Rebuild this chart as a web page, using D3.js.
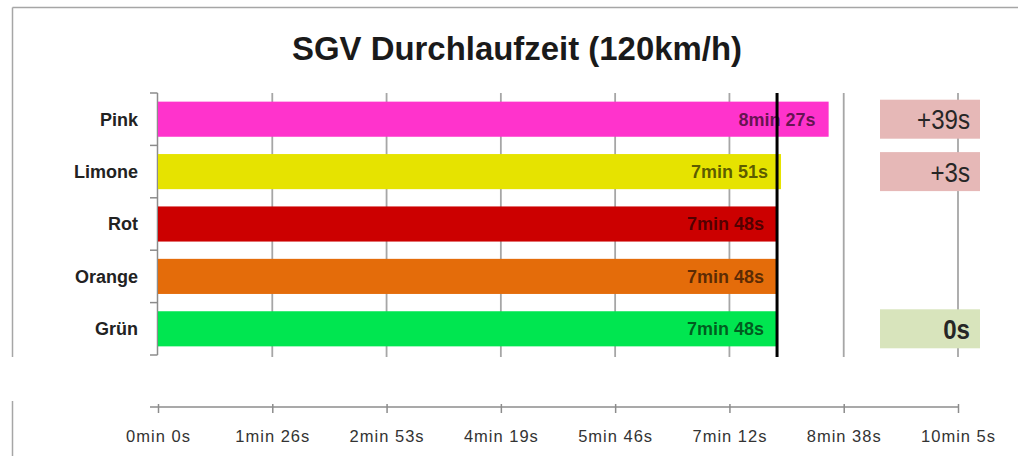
<!DOCTYPE html>
<html>
<head>
<meta charset="utf-8">
<script src="https://cdn.jsdelivr.net/npm/d3@7"></script>
<style>
  body { margin: 0; background: #fff; }
  svg { display: block; }
</style>
</head>
<body>
<svg id="chart" width="1018" height="456"></svg>
<script>
// categories top to bottom, times in seconds
const categories = ["Pink", "Limone", "Rot", "Orange", "Grün"];
const durations = [507, 471, 468, 468, 468];
const barColors = ["#ff33cc", "#e6e300", "#cc0000", "#e46c0a", "#00e650"];

// x ticks (Excel steps of 0.001 day = 86.4s)
const tickValues = [0, 86.4, 172.8, 259.2, 345.6, 432, 518.4, 604.8];

// reference line (7min 48s)
const refTime = 468;

// delta boxes on the right
const deltaCats = ["Pink", "Limone", "Grün"];
const deltaLabels = ["+39s", "+3s", "0s"];
const deltaColors = ["#e6b8b7", "#e6b8b7", "#d8e4bc"];
const deltaBold = [false, false, true];

const title = "SGV Durchlaufzeit (120km/h)";

const width = 1018, height = 456;
const plotTop = 93, plotBottom = 355, stripCut = 357;
const axisY = 407;

const fmt = s => `${Math.floor(s / 60)}min ${Math.round(s % 60)}s`;

const svg = d3.select("#chart");

const x = d3.scaleLinear()
    .domain([0, 604.8])
    .range([158, 958]);

const y = d3.scaleBand()
    .domain(categories)
    .range([plotTop, plotBottom])
    .paddingInner(0.33)
    .paddingOuter(0.165);

// outer frame (top + left, broken between the two strips)
const frame = svg.append("g").attr("stroke", "#a6a6a6").attr("stroke-width", 1.5);
frame.append("line").attr("x1", 12.5).attr("x2", width).attr("y1", 7.5).attr("y2", 7.5);
frame.append("line").attr("x1", 12.5).attr("x2", 12.5).attr("y1", 7.5).attr("y2", stripCut);
frame.append("line").attr("x1", 12.5).attr("x2", 12.5).attr("y1", 401).attr("y2", height);

// title
svg.append("text")
    .attr("x", 517)
    .attr("y", 60)
    .attr("text-anchor", "middle")
    .attr("font-family", "'Liberation Sans', Arial, sans-serif")
    .attr("font-size", 33)
    .attr("font-weight", "bold")
    .attr("fill", "#1a1a1a")
    .attr("textLength", 450)
    .attr("lengthAdjust", "spacingAndGlyphs")
    .text(title);

// vertical gridlines
svg.append("g")
    .selectAll("line")
    .data(tickValues.slice(1))
    .join("line")
    .attr("x1", d => x(d))
    .attr("x2", d => x(d))
    .attr("y1", plotTop)
    .attr("y2", stripCut)
    .attr("stroke", "#a6a6a6")
    .attr("stroke-width", 1.8);

// left axis line with ticks at band boundaries
const yAxis = svg.append("g").attr("stroke", "#8c8c8c").attr("stroke-width", 1.5);
yAxis.append("line")
    .attr("x1", x(0) - 0.5).attr("x2", x(0) - 0.5)
    .attr("y1", plotTop).attr("y2", plotBottom);
const bounds = d3.range(categories.length + 1).map(i => plotTop + i * y.step());
yAxis.selectAll("line.tick")
    .data(bounds)
    .join("line")
    .attr("class", "tick")
    .attr("x1", x(0) - 8).attr("x2", x(0) - 0.5)
    .attr("y1", d => d).attr("y2", d => d);

// bars
svg.append("g")
    .selectAll("rect")
    .data(categories)
    .join("rect")
    .attr("x", x(0))
    .attr("y", d => y(d))
    .attr("width", (d, i) => x(durations[i]) - x(0))
    .attr("height", y.bandwidth())
    .attr("fill", (d, i) => barColors[i]);

// category labels
svg.append("g")
    .selectAll("text")
    .data(categories)
    .join("text")
    .attr("x", 138)
    .attr("y", d => y(d) + y.bandwidth() / 2)
    .attr("dy", "0.36em")
    .attr("text-anchor", "end")
    .attr("font-family", "'Liberation Sans', Arial, sans-serif")
    .attr("font-size", 18)
    .attr("font-weight", "bold")
    .attr("fill", "#222")
    .text(d => d);

// value labels inside bars
svg.append("g")
    .selectAll("text")
    .data(categories)
    .join("text")
    .attr("x", (d, i) => x(durations[i]) - 13)
    .attr("y", d => y(d) + y.bandwidth() / 2)
    .attr("dy", "0.36em")
    .attr("text-anchor", "end")
    .attr("font-family", "'Liberation Sans', Arial, sans-serif")
    .attr("font-size", 18)
    .attr("font-weight", "bold")
    .attr("fill", "#000")
    .attr("fill-opacity", 0.62)
    .text((d, i) => fmt(durations[i]));

// reference line
svg.append("line")
    .attr("x1", x(refTime))
    .attr("x2", x(refTime))
    .attr("y1", plotTop)
    .attr("y2", stripCut)
    .attr("stroke", "#000")
    .attr("stroke-width", 3);

// delta boxes
const deltas = svg.append("g")
    .selectAll("g")
    .data(deltaCats)
    .join("g")
    .attr("transform", d => `translate(0,${y(d) + y.bandwidth() / 2})`);

deltas.append("rect")
    .attr("x", 880)
    .attr("y", -19.5)
    .attr("width", 100)
    .attr("height", 39)
    .attr("fill", (d, i) => deltaColors[i]);

// narrow look: squeeze horizontally around the right edge
deltas.append("text")
    .attr("transform", "translate(970,0) scale(0.86,1)")
    .attr("dy", "0.36em")
    .attr("text-anchor", "end")
    .attr("font-family", "'Liberation Sans', Arial, sans-serif")
    .attr("font-size", 28)
    .attr("font-weight", (d, i) => deltaBold[i] ? "bold" : "normal")
    .attr("fill", "#262626")
    .text((d, i) => deltaLabels[i]);

// bottom axis (separate strip)
const xAxis = d3.axisBottom(x)
    .tickValues(tickValues)
    .tickFormat(fmt)
    .tickSizeOuter(0)
    .tickSize(6);

const gx = svg.append("g")
    .attr("transform", `translate(0,${axisY})`)
    .call(xAxis);

gx.select(".domain")
    .attr("d", `M${x(0) - 8},0H${x(604.8)}`)
    .attr("stroke", "#8c8c8c")
    .attr("stroke-width", 1.5);

gx.selectAll(".tick line")
    .attr("y1", -3)
    .attr("y2", 6)
    .attr("stroke", "#8c8c8c")
    .attr("stroke-width", 1.5);

gx.selectAll(".tick text")
    .attr("y", 29)
    .attr("dy", "0.36em")
    .attr("font-family", "'Liberation Sans', Arial, sans-serif")
    .attr("font-size", 16.5)
    .attr("letter-spacing", 1)
    .attr("fill", "#333");
</script>
</body>
</html>
